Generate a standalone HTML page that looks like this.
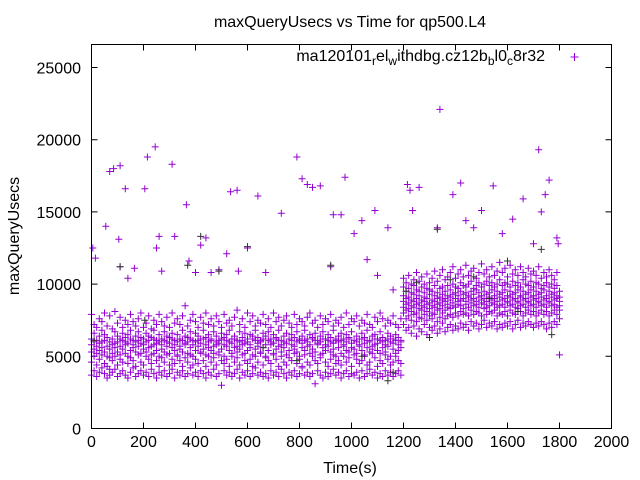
<!DOCTYPE html>
<html><head><meta charset="utf-8"><style>
html,body{margin:0;padding:0;background:#fff;}
svg{display:block;font-family:"Liberation Sans",sans-serif;}
</style></head><body>
<svg id="chart" width="640" height="480" viewBox="0 0 640 480">
<rect x="0" y="0" width="640" height="480" fill="#fff"/>
<text x="350" y="27" font-size="16" text-anchor="middle">maxQueryUsecs vs Time for qp500.L4</text>
<text x="0" y="0" font-size="16" text-anchor="middle" transform="translate(19,236) rotate(-90)">maxQueryUsecs</text>
<text x="350" y="473" font-size="16" text-anchor="middle">Time(s)</text>
<g id="axes"></g>
<g id="points"></g>
<rect x="91.5" y="44.5" width="520" height="384" fill="none" stroke="#000" stroke-width="1"/>
<g>
<text x="545" y="61" font-size="16" text-anchor="end">ma120101<tspan font-size="12" dy="4">r</tspan><tspan dy="-4">el</tspan><tspan font-size="12" dy="4">w</tspan><tspan dy="-4">ithdbg.cz12b</tspan><tspan font-size="12" dy="4">b</tspan><tspan dy="-4">l0</tspan><tspan font-size="12" dy="4">c</tspan><tspan dy="-4">8r32</tspan></text>
<path d="M570.5 57h8M574.5 53v8" stroke="#9400d3" stroke-width="1"/>
</g>
</svg>
<script>
// values in hundreds of usecs; first entry of each row is time (s)
const bandRows = [
[0,37,46,53,58,62,79],[10,40,50,55,60,66,72],[20,36,44,52,57,61,70],[30,39,48,54,59,64,76],[40,42,51,56,60,68,74],[50,38,45,53,61,65,80],[60,35,43,50,57,63,71],[70,37,41,49,55,60,78],[80,39,47,52,58,62,69],[90,41,50,56,59,67,81],
[100,36,44,53,60,64,73],[110,38,48,51,57,62,77],[120,40,46,55,61,66,70],[130,37,52,58,60,63,75],[140,35,45,50,59,65,72],[150,39,49,54,62,68,79],[160,42,47,56,58,61,74],[170,36,43,53,60,64,71],[180,38,51,57,61,67,76],[190,40,46,52,59,63,80],
[200,37,44,55,58,62,70],[210,39,50,53,60,66,73],[220,36,48,56,61,64,78],[230,41,45,51,57,63,69],[240,38,52,58,62,68,75],[250,35,47,54,59,61,72],[260,39,43,50,60,65,79],[270,37,49,55,58,62,74],[280,40,46,53,61,67,71],[290,36,51,57,60,64,77],
[300,38,44,52,59,63,70],[310,41,48,56,62,66,80],[320,35,45,54,58,61,73],[330,39,50,51,60,65,76],[340,37,47,55,57,62,72],[350,40,43,53,61,68,78],[360,36,49,58,59,64,85],[370,38,46,52,60,63,71],[380,42,51,56,62,67,75],[390,37,44,50,58,61,79],
[400,39,48,54,60,66,74],[410,36,45,57,61,64,70],[420,40,52,53,59,62,77],[430,38,47,55,62,68,73],[440,35,43,51,58,63,80],[450,39,50,56,60,65,72],[460,37,46,54,61,62,76],[470,41,49,52,57,67,71],[480,36,44,58,60,64,78],[490,38,51,53,59,61,74],
[500,30,47,55,62,66,70],[510,40,45,50,58,63,79],[520,37,48,57,61,65,73],[530,39,43,54,60,68,75],[540,36,50,52,59,62,71],[550,38,46,56,62,64,77],[560,41,49,53,57,61,82],[570,35,44,55,60,67,72],[580,39,51,58,61,63,76],[590,37,47,52,59,66,70],
[600,40,45,54,60,62,80],[610,36,48,56,58,65,74],[620,38,43,51,62,64,78],[630,42,50,55,61,68,71],[640,37,46,57,59,63,75],[650,39,52,53,60,61,73],[660,36,44,56,62,66,79],[670,38,49,50,58,64,72],[680,35,47,54,61,67,76],[690,40,45,58,60,62,70],
[700,37,51,52,59,65,80],[710,39,48,55,62,63,74],[720,36,43,57,61,68,77],[730,41,50,53,58,61,71],[740,38,46,56,60,64,75],[750,35,44,51,59,66,78],[760,39,49,54,62,62,73],[770,37,47,58,61,65,70],[780,40,52,55,57,63,79],[790,36,45,53,60,67,72],
[800,38,48,50,62,61,76],[810,42,43,56,59,64,74],[820,37,51,54,61,68,71],[830,39,46,57,60,62,77],[840,36,44,52,58,65,80],[850,38,50,55,62,63,73],[860,31,47,53,61,66,75],[870,40,45,58,59,61,70],[880,37,49,51,60,64,78],[890,35,52,56,62,67,72],
[900,39,46,54,58,62,76],[910,36,43,57,61,65,74],[920,38,48,53,60,63,79],[930,41,51,55,59,68,71],[940,37,45,50,62,61,75],[950,39,47,56,60,64,73],[960,35,44,52,61,66,77],[970,38,50,58,57,62,70],[980,40,46,54,60,65,80],[990,36,49,53,62,63,72],
[1000,38,43,56,59,67,76],[1010,37,51,55,61,61,74],[1020,39,48,52,60,64,78],[1030,35,45,57,58,62,71],[1040,40,47,54,62,66,75],[1050,36,50,51,59,63,73],[1060,38,44,56,61,68,79],[1070,41,46,53,60,61,72],[1080,37,52,55,57,64,70],[1090,39,49,58,62,65,77],
[1100,35,43,54,59,62,74],[1110,38,47,52,61,67,80],[1120,36,45,56,60,63,76],[1130,40,51,53,58,61,71],[1140,37,48,57,62,66,75],[1150,39,44,50,60,64,73],[1160,36,46,55,59,62,78],[1170,38,50,52,61,65,72],[1180,40,47,54,58,63,70],[1190,37,45,56,60,61,76],
[1200,72,80,84,88,92,98,104],[1210,68,76,82,86,90,95,101],[1220,70,78,83,87,91,97,106],[1230,66,75,81,85,89,94,100],[1240,71,79,84,88,93,99,103],[1250,64,74,80,86,90,96,108],[1260,69,77,83,87,92,95,102],[1270,67,76,82,85,89,98,105],[1280,72,79,84,88,91,94,100],[1290,65,75,81,86,90,97,107],
[1300,70,78,83,87,93,96,101],[1310,68,76,80,85,89,95,104],[1320,71,79,84,88,92,99,109],[1330,66,74,82,86,90,94,102],[1340,69,77,83,87,91,97,106],[1350,73,80,85,89,93,98,110],[1360,67,76,82,88,90,95,103],[1370,70,78,84,86,92,99,105],[1380,72,79,83,89,91,96,108],[1390,68,77,85,87,93,100,112],
[1400,71,80,84,90,94,98,104],[1410,69,78,86,88,92,97,107],[1420,73,81,85,89,95,101,110],[1430,70,79,83,90,93,99,105],[1440,72,80,86,88,94,98,113],[1450,68,78,84,91,92,100,106],[1460,74,82,87,89,95,102,109],[1470,71,79,85,90,93,97,111],[1480,73,81,86,88,96,99,104],[1490,69,80,84,91,94,101,108],
[1500,72,78,87,89,92,98,114],[1510,75,83,86,90,95,100,107],[1520,70,79,84,88,93,102,110],[1530,73,81,85,91,94,99,105],[1540,71,80,87,89,96,101,112],[1550,74,82,86,90,92,98,106],[1560,69,78,84,88,95,100,109],[1570,72,80,85,91,93,103,115],[1580,70,79,86,89,94,99,108],[1590,73,81,84,90,96,101,111],
[1600,71,78,87,88,92,100,105],[1610,74,82,85,91,95,98,113],[1620,69,80,86,89,93,102,107],[1630,72,79,84,90,94,99,110],[1640,75,83,87,88,96,101,106],[1650,70,81,85,91,92,98,112],[1660,73,78,86,89,95,103,108],[1670,71,80,84,90,93,100,105],[1680,74,82,87,88,94,99,111],[1690,72,79,85,91,96,102,107],
[1700,70,81,86,89,92,98,109],[1710,73,78,84,90,95,101,106],[1720,71,80,87,88,93,100,112],[1730,74,82,85,91,94,97,104],[1740,72,79,86,89,96,99,108],[1750,69,81,84,90,92,101,105],[1760,73,78,87,88,95,98,110],[1770,70,80,85,91,93,100,106],[1780,74,82,86,89,94,97,103],[1790,72,79,84,90,92,99,108],[1800,51,76,82,85,88,91,95]
];
const outlierTimes = [5,15,55,70,85,110,105,130,110,140,165,205,215,245,250,260,270,310,320,365,375,400,420,440,460,490,520,535,560,565,600,640,670,730,790,810,830,850,880,920,930,960,975,1010,1040,1060,1090,1100,1140,1160,1215,1225,1235,1260,1330,1340,1390,1420,1440,1470,1500,1545,1580,1620,1660,1700,1720,1730,1745,1760,1790,1795];
const outlierValues = [12500,11800,14000,17800,18000,18200,13100,16600,11200,10400,11100,16600,18800,19500,12500,13300,10900,18300,13300,15500,11600,10800,12700,13200,10800,11000,12100,16400,16500,10900,12500,16100,10800,14900,18800,17300,16900,16700,16800,11200,14800,14800,17400,13500,14400,11700,15100,10600,13900,9600,16900,16500,15100,16700,13900,22100,16200,17000,14400,13900,15100,16800,13500,14500,15900,12800,19300,15000,16200,17200,13200,12800];
const blackTimes = [10,110,205,370,420,490,600,660,790,920,1040,1160,1140,1210,1250,1330,1380,1470,1530,1640,1730,1770,1600,1300];
const blackValues = [6100,11200,7500,11300,13300,10900,12600,5600,4700,11300,5000,3900,3300,9500,10100,13800,10300,10500,9000,8100,12400,6500,11600,6300];
const xTicks = [0,200,400,600,800,1000,1200,1400,1600,1800,2000];
const yTicks = [0,5000,10000,15000,20000,25000];

const X0=91.5, X1=611.5, Y0=428.5;
function xs(t){return X0 + t*(X1-X0)/2000;}
function ys(v){return Y0 - v*(72.2/5000);}
const NS='http://www.w3.org/2000/svg';
const axes=document.getElementById('axes');
xTicks.forEach(t=>{
  const x=xs(t);
  const p=document.createElementNS(NS,'path');
  p.setAttribute('d',`M${x} ${Y0}v-6M${x} 44.5v6`);
  p.setAttribute('stroke','#000');
  
  
  axes.appendChild(p);
  const tx=document.createElementNS(NS,'text');
  tx.setAttribute('x',x);tx.setAttribute('y',447);tx.setAttribute('font-size','16');tx.setAttribute('text-anchor','middle');
  tx.textContent=t;
  
  
  axes.appendChild(tx);
});
yTicks.forEach(v=>{
  const y=ys(v);
  const p=document.createElementNS(NS,'path');
  p.setAttribute('d',`M${X0} ${y}h6M${X1} ${y}h-6`);
  p.setAttribute('stroke','#000');
  
  
  axes.appendChild(p);
  const tx=document.createElementNS(NS,'text');
  tx.setAttribute('x',81);tx.setAttribute('y',y+6);tx.setAttribute('font-size','16');tx.setAttribute('text-anchor','end');
  tx.textContent=v;
  
  
  axes.appendChild(tx);
});
function plus(t,v){const x=xs(t).toFixed(1),y=ys(v).toFixed(1);return `M${x-3.5} ${y}h7M${x} ${y-3.5}v7`;}
let d='';
bandRows.forEach(r=>{for(let i=1;i<r.length;i++) d+=plus(r[0],r[i]*100);});
outlierTimes.forEach((t,i)=>{d+=plus(t,outlierValues[i]);});
const pts=document.getElementById('points');
const pp=document.createElementNS(NS,'path');
pp.setAttribute('d',d);pp.setAttribute('stroke','#9400d3');pp.setAttribute('stroke-width','1');pp.setAttribute('fill','none');


pts.appendChild(pp);
let db='';
blackTimes.forEach((t,i)=>{db+=plus(t,blackValues[i]);});
const pb=document.createElementNS(NS,'path');
pb.setAttribute('d',db);pb.setAttribute('stroke','#333');pb.setAttribute('stroke-width','1');pb.setAttribute('fill','none');


pts.appendChild(pb);
</script>
</body></html>
